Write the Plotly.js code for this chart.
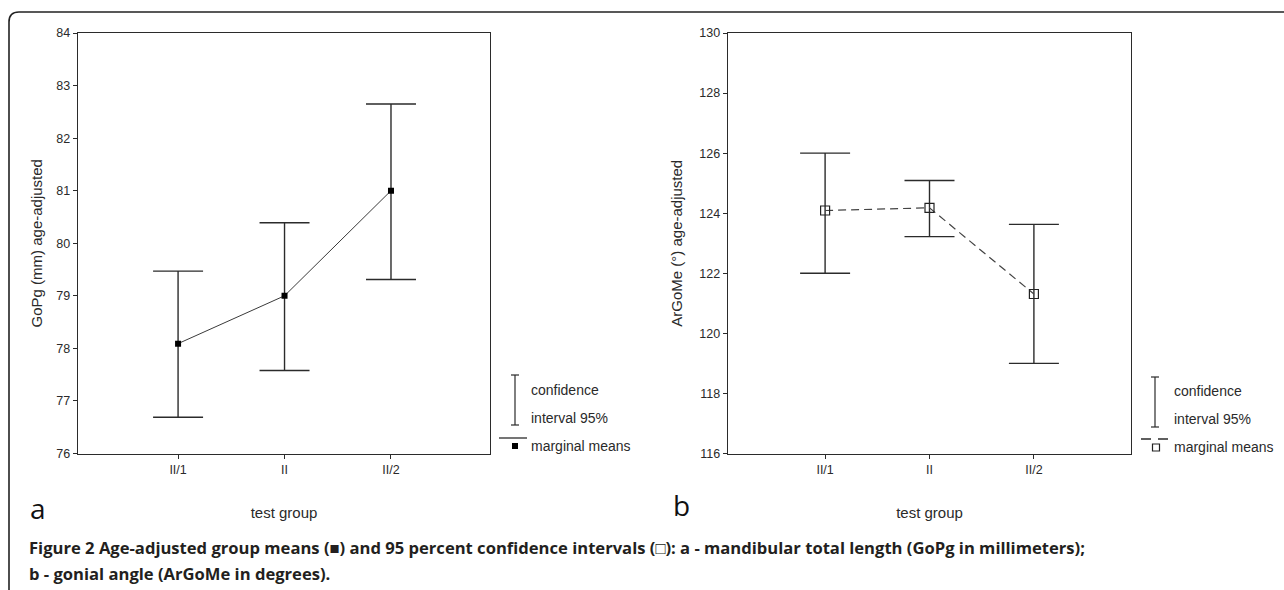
<!DOCTYPE html>
<html>
<head>
<meta charset="utf-8">
<script src="https://cdn.plot.ly/plotly-3.0.1.min.js"></script>
<style>
html,body{margin:0;padding:0;background:#fff;}
#chart{width:1284px;height:590px;}
</style>
</head>
<body>
<div id="chart"></div>
<script>
// ---- data ----
const categories = ['II/1', 'II', 'II/2'];
const gopgMean  = [78.09, 79.00, 81.00];
const gopgUpper = [79.47, 80.39, 82.65];
const gopgLower = [76.69, 77.58, 79.31];
const argomeMean  = [124.09, 124.18, 121.31];
const argomeUpper = [126.00, 125.09, 123.63];
const argomeLower = [122.00, 123.22, 119.00];
const leftYTicks  = [76, 77, 78, 79, 80, 81, 82, 83, 84];
const rightYTicks = [116, 118, 120, 122, 124, 126, 128, 130];
const legendLabels = ['confidence', 'interval 95%', 'marginal means'];
const captionLine1 = 'Figure 2 Age-adjusted group means (\u25A0) and 95 percent confidence intervals (\u25A1): a - mandibular total length (GoPg in millimeters);';
const captionLine2 = 'b - gonial angle (ArGoMe in degrees).';

// ---- helpers (pixel -> paper) ----
const W = 1284, H = 590;
const px = x => x / W;
const py = y => 1 - y / H;

const ink = '#2b2b2b';
const tickFont = {family: 'Liberation Sans, Arial, sans-serif', size: 12.5, color: '#2a2a2a'};
const textFont = {family: 'Liberation Sans, Arial, sans-serif', size: 15, color: '#2a2a2a'};
const legendFont = {family: 'Liberation Sans, Arial, sans-serif', size: 14, color: '#2a2a2a'};

const up = (u, m) => u.map((v, i) => +(v - m[i]).toFixed(3));
const dn = (l, m) => l.map((v, i) => +(m[i] - v).toFixed(3));

const traceA = {
  x: categories, y: gopgMean, xaxis: 'x', yaxis: 'y',
  type: 'scatter', mode: 'lines+markers',
  line: {color: '#3a3a3a', width: 1},
  marker: {symbol: 'square', size: 6, color: '#000'},
  error_y: {type: 'data', symmetric: false,
    array: up(gopgUpper, gopgMean), arrayminus: dn(gopgLower, gopgMean),
    width: 25, thickness: 1.4, color: ink},
  showlegend: false, hoverinfo: 'x+y'
};
const traceB = {
  x: categories, y: argomeMean, xaxis: 'x2', yaxis: 'y2',
  type: 'scatter', mode: 'lines+markers',
  line: {color: '#444', width: 1.2, dash: '8px,5px'},
  marker: {symbol: 'square-open', size: 9, color: '#222', line: {width: 1.2}},
  error_y: {type: 'data', symmetric: false,
    array: up(argomeUpper, argomeMean), arrayminus: dn(argomeLower, argomeMean),
    width: 25, thickness: 1.4, color: ink},
  showlegend: false, hoverinfo: 'x+y'
};

const yDomain = [py(453.5), py(33)];
const axisCommon = {
  showline: true, mirror: true, linecolor: ink, linewidth: 1.3,
  showgrid: false, zeroline: false, ticks: 'outside', ticklen: 4,
  tickcolor: ink, tickwidth: 1, tickfont: tickFont, fixedrange: true
};

const layout = {
  width: W, height: H,
  margin: {l: 0, r: 0, t: 0, b: 0},
  paper_bgcolor: '#fff', plot_bgcolor: '#fff',
  showlegend: false,
  xaxis: Object.assign({}, axisCommon, {
    domain: [px(78), px(490)], anchor: 'y', type: 'category',
    range: [-0.94, 2.93],
    title: {text: 'test group', font: textFont, standoff: 31}
  }),
  yaxis: Object.assign({}, axisCommon, {
    domain: yDomain, anchor: 'x', range: [76, 84],
    tickvals: leftYTicks, ticktext: leftYTicks.map(String),
    title: {text: 'GoPg (mm) age-adjusted', font: textFont, standoff: 10}
  }),
  xaxis2: Object.assign({}, axisCommon, {
    domain: [px(728), px(1131)], anchor: 'y2', type: 'category',
    range: [-0.93, 2.93],
    title: {text: 'test group', font: textFont, standoff: 31}
  }),
  yaxis2: Object.assign({}, axisCommon, {
    domain: yDomain, anchor: 'x2', range: [116, 130],
    tickvals: rightYTicks, ticktext: rightYTicks.map(String),
    title: {text: 'ArGoMe (\u00B0) age-adjusted', font: textFont, standoff: 13}
  }),
  shapes: [],
  annotations: []
};

// outer rounded frame (top + left)
layout.shapes.push({
  type: 'path', xref: 'paper', yref: 'paper',
  path: `M ${px(9)} ${py(595)} L ${px(9)} ${py(22)} Q ${px(9)} ${py(12)} ${px(19)} ${py(12)} L ${px(1290)} ${py(12)}`,
  line: {color: '#222', width: 1.6}
});

// legend glyphs
function ciGlyph(x, y0, y1) {
  layout.shapes.push({type: 'line', xref: 'paper', yref: 'paper', x0: px(x), x1: px(x), y0: py(y0), y1: py(y1), line: {color: ink, width: 1.2}});
  [y0, y1].forEach(y => layout.shapes.push({type: 'line', xref: 'paper', yref: 'paper', x0: px(x - 4), x1: px(x + 4), y0: py(y), y1: py(y), line: {color: ink, width: 1.2}}));
}
ciGlyph(515, 375, 425);
ciGlyph(1155, 377, 427);
layout.shapes.push({type: 'line', xref: 'paper', yref: 'paper', x0: px(499), x1: px(527), y0: py(438), y1: py(438), line: {color: ink, width: 1.3}});
layout.shapes.push({type: 'rect', xref: 'paper', yref: 'paper', x0: px(512), x1: px(518), y0: py(449), y1: py(443), fillcolor: '#000', line: {width: 0}});
layout.shapes.push({type: 'line', xref: 'paper', yref: 'paper', x0: px(1141), x1: px(1169), y0: py(439), y1: py(439), line: {color: ink, width: 1.3, dash: '10px,7px'}});
layout.shapes.push({type: 'rect', xref: 'paper', yref: 'paper', x0: px(1152.5), x1: px(1159.5), y0: py(451), y1: py(444), fillcolor: 'rgba(0,0,0,0)', line: {color: '#222', width: 1.2}});

function label(x, y, text, font, anchor) {
  layout.annotations.push({xref: 'paper', yref: 'paper', x: px(x), y: py(y), text: text,
    showarrow: false, xanchor: anchor || 'left', yanchor: 'middle', font: font});
}
[[390, 0], [418, 1], [446, 2]].forEach(([y, i]) => {
  label(529, y, legendLabels[i], legendFont);
  label(1172, y + 1, legendLabels[i], legendFont);
});

// panel letters
const letterFont = {family: 'Open Sans, Noto Sans, sans-serif', size: 28, color: '#111'};
label(38, 508, 'a', letterFont, 'center');
label(681, 505, 'b', letterFont, 'center');

// caption
const capFont = {family: 'Open Sans, Noto Sans, sans-serif', size: 16.6, color: '#231f20'};
label(27, 547, '<b>' + captionLine1 + '</b>', capFont);
label(27, 573, '<b>' + captionLine2 + '</b>', capFont);

Plotly.newPlot('chart', [traceA, traceB], layout, {displayModeBar: false, staticPlot: true});
</script>
</body>
</html>
